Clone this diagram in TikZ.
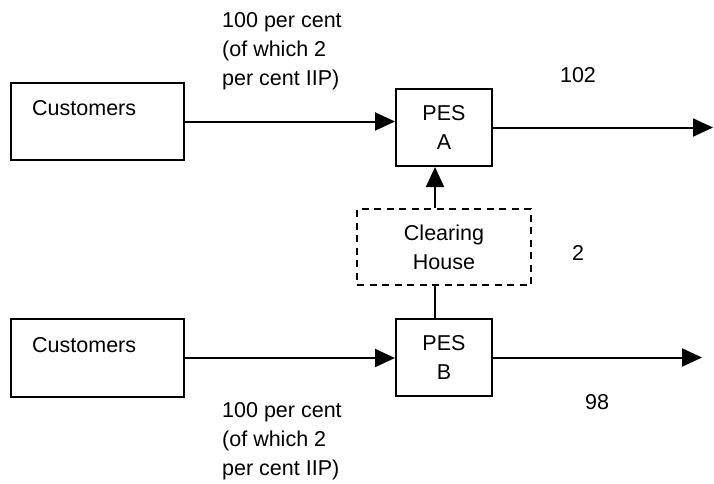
\documentclass[tikz,border=0pt]{standalone}
\usepackage{fontspec}
\setmainfont{Liberation Sans}
\usetikzlibrary{arrows.meta}
\begin{document}
\begin{tikzpicture}[x=1pt,y=-1pt,
  lw/.style={line width=2pt},
  box/.style={draw, lw, rectangle, inner sep=0pt},
  txt/.style={font=\fontsize{21.5}{29}\selectfont, inner sep=0pt},
  arr/.style={lw, -{Triangle[length=20pt,width=18pt]}}
]
\useasboundingbox (0,0) rectangle (714,483);
% boxes
\node[box, minimum width=173pt, minimum height=77pt] (cust1) at (97.5,121.5) {};
\node[txt, anchor=west] (cust1t) at (32,108) {Customers};
\node[box, minimum width=173pt, minimum height=78pt] (cust2) at (97.5,358) {};
\node[txt, anchor=west] (cust2t) at (32,345) {Customers};
\node[box, minimum width=96pt, minimum height=77pt, txt, align=center] (pesA) at (444,127.5) {PES\\A};
\node[box, minimum width=96pt, minimum height=77pt, txt, align=center] (pesB) at (444,357.5) {PES\\B};
\node[box, dash pattern=on 7pt off 5.5pt, minimum width=174pt, minimum height=76pt, txt, align=center] (ch) at (444,247) {Clearing\\House};
% connectors
\draw[arr] (cust1.east) -- (pesA.west |- cust1.east);
\coordinate (outA) at (713,127.5);
\draw[arr] (pesA.east) -- (outA);
\draw[arr] ([xshift=-9pt]ch.north) -- ([xshift=-9pt]pesA.south);
\draw[lw] ([xshift=-9pt]ch.south) -- ([xshift=-9pt]pesB.north);
\draw[arr] (cust2.east) -- (pesB.west |- cust2.east);
\coordinate (outB) at (702,357.5);
\draw[arr] (pesB.east) -- (outB);
% labels
\node[txt, anchor=west, align=left] (lab1) at (222,51) {100 per cent\\(of which 2\\per cent IIP)};
\node[txt, anchor=west, align=left] (lab2) at (222,441.5) {100 per cent\\(of which 2\\per cent IIP)};
\node[txt] (l102) at (578,75) {102};
\node[txt] (l2) at (578,253) {2};
\node[txt] (l98) at (597,402) {98};
\end{tikzpicture}
\end{document}
